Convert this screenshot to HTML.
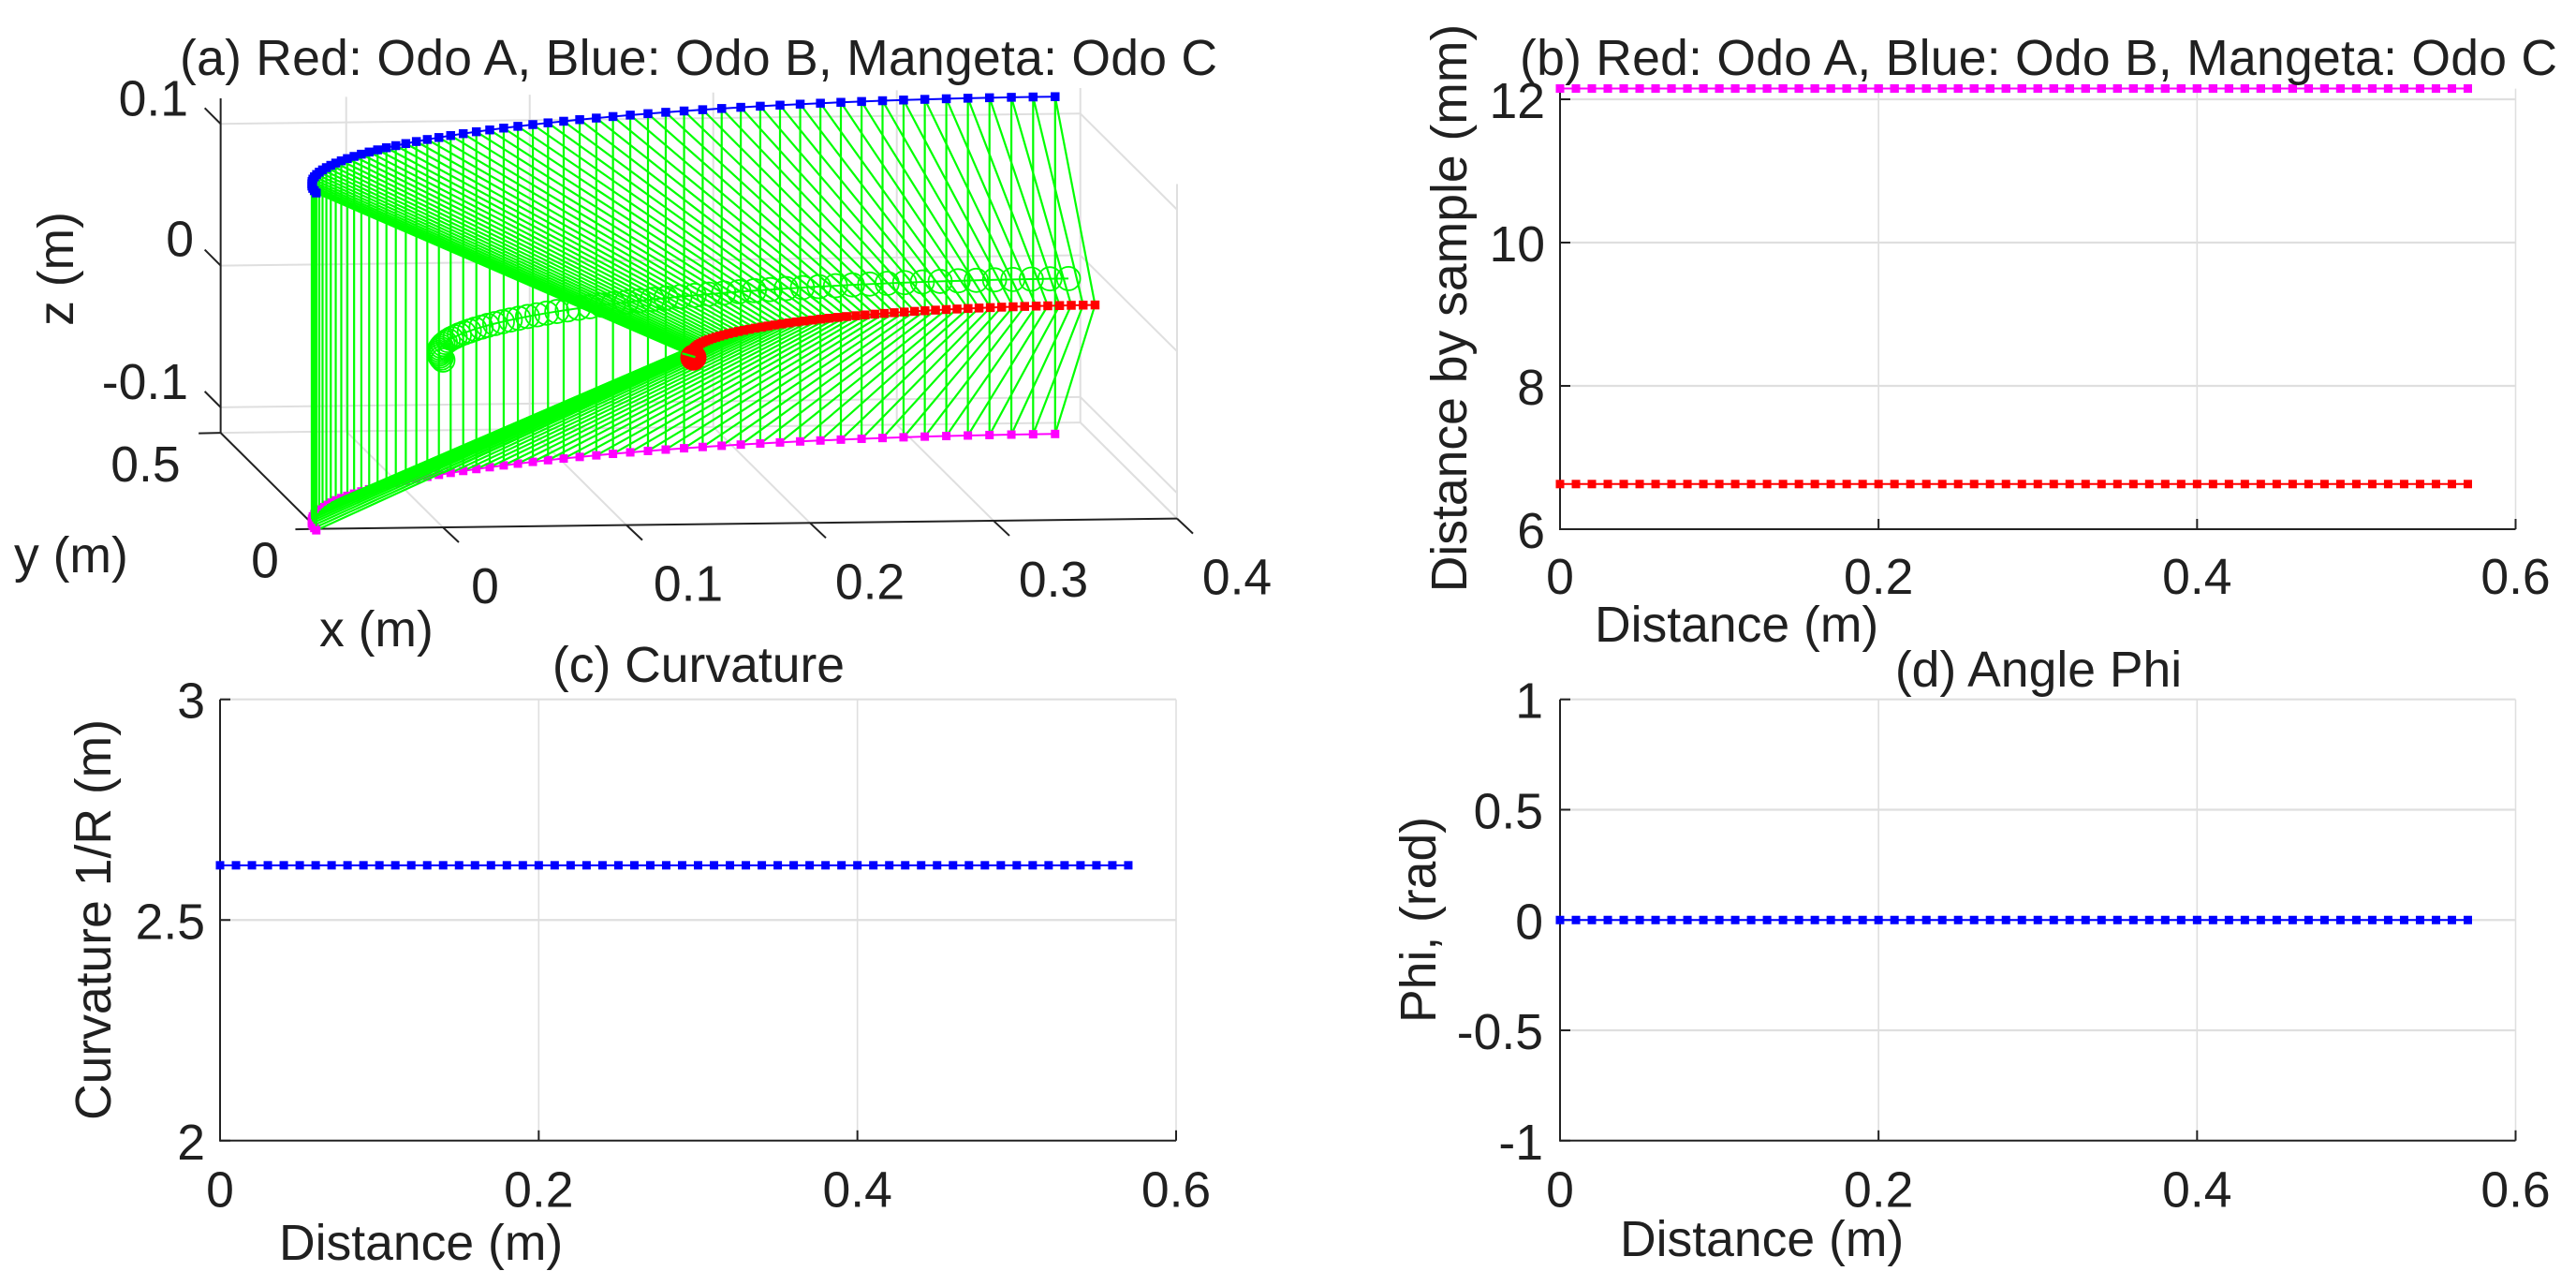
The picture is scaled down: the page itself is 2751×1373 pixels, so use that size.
<!DOCTYPE html>
<html lang="en">
<head>
<meta charset="utf-8">
<title>Odometer path charts</title>
<style>
html,body{margin:0;padding:0;background:#fff;}
svg{display:block;}
text{font-family:"Liberation Sans",Arial,sans-serif;fill:#202020;font-size:53.5px;}
</style>
</head>
<body>
<svg id="fig" xmlns="http://www.w3.org/2000/svg" width="2751" height="1373" viewBox="0 0 2751 1373">
<rect x="0" y="0" width="2751" height="1373" fill="#ffffff"/>
<g id="panelA"></g>
<g id="panelB"></g>
<g id="panelC"></g>
<g id="panelD"></g>
<text x="192" y="80" textLength="1108" lengthAdjust="spacing">(a) Red: Odo A, Blue: Odo B, Mangeta: Odo C</text>
<text x="1623" y="80" textLength="1108" lengthAdjust="spacing">(b) Red: Odo A, Blue: Odo B, Mangeta: Odo C</text>
<text x="746" y="728" text-anchor="middle">(c) Curvature</text>
<text x="2177" y="733" text-anchor="middle">(d) Angle Phi</text>
<text transform="translate(78,287) rotate(-90)" text-anchor="middle">z (m)</text>
<text x="15" y="611">y (m)</text>
<text x="341" y="690">x (m)</text>
<text transform="translate(1566,329) rotate(-90)" text-anchor="middle">Distance by sample (mm)</text>
<text x="1703" y="685">Distance (m)</text>
<text transform="translate(118,982) rotate(-90)" text-anchor="middle">Curvature 1/R (m)</text>
<text x="298" y="1345">Distance (m)</text>
<text transform="translate(1533,982) rotate(-90)" text-anchor="middle">Phi, (rad)</text>
<text x="1730" y="1341">Distance (m)</text>
</svg>
<script>
// ---------- panel (a) data: metres, read from the 3D view ----------
const odoBCX=[-.069,-.0688,-.0684,-.0676,-.0664,-.065,-.0633,-.0612,-.0588,-.0561,-.0531,-.0498,-.0462,-.0423,-.0381,-.0336,-.0288,-.0237,-.0183,-.0126,-.0067,-.0005,.006,.0128,.0198,.0271,.0345,.0423,.0504,.0586,.0671,.0757,.0847,.0938,.1031,.1126,.1224,.1322,.1423,.1526,.1629,.1735,.1842,.1951,.206,.2171,.2283,.2397,.2511,.2626,.2742,.2859,.2976,.3094,.3213,.3332,.3451,.3571,.369,.381];
const odoBCY=[0,.012,.0239,.0359,.0478,.0597,.0716,.0834,.0951,.1068,.1184,.1299,.1413,.1527,.1639,.175,.1859,.1968,.2075,.2181,.2284,.2387,.2488,.2586,.2684,.2779,.2872,.2963,.3053,.3139,.3224,.3306,.3387,.3465,.3539,.3612,.3682,.375,.3815,.3877,.3936,.3993,.4047,.4098,.4146,.4191,.4233,.4272,.4308,.4341,.4371,.4398,.4422,.4443,.446,.4474,.4486,.4494,.4498,.45];
const centerX=[0,.0001,.0005,.0012,.0022,.0034,.0048,.0066,.0086,.0109,.0134,.0162,.0193,.0226,.0262,.03,.034,.0384,.0429,.0477,.0528,.058,.0635,.0692,.0752,.0813,.0877,.0942,.1011,.108,.1152,.1225,.1302,.1379,.1457,.1538,.162,.1704,.1789,.1876,.1964,.2053,.2144,.2236,.2329,.2423,.2517,.2613,.271,.2808,.2906,.3005,.3104,.3204,.3304,.3405,.3506,.3607,.3709,.381];
const centerY=[0,.0101,.0203,.0304,.0405,.0506,.0606,.0706,.0805,.0904,.1002,.11,.1197,.1293,.1387,.1481,.1574,.1666,.1757,.1846,.1934,.2021,.2106,.219,.2272,.2353,.2431,.2508,.2585,.2658,.273,.2799,.2868,.2933,.2997,.3058,.3118,.3175,.323,.3283,.3333,.3381,.3426,.347,.351,.3548,.3584,.3617,.3648,.3676,.3701,.3724,.3744,.3761,.3776,.3788,.3798,.3805,.3809,.381];
const odoAX=[.1375,.1376,.1378,.1383,.1389,.1397,.1406,.1417,.143,.1445,.1461,.1479,.1498,.1519,.1542,.1567,.1593,.162,.1649,.168,.1712,.1746,.1781,.1817,.1855,.1895,.1935,.1977,.2021,.2065,.2111,.2158,.2207,.2256,.2306,.2358,.241,.2464,.2518,.2574,.263,.2687,.2745,.2804,.2863,.2923,.2984,.3045,.3107,.3169,.3232,.3295,.3359,.3423,.3487,.3551,.3616,.368,.3745,.381];
const odoAY=[0,.0065,.013,.0194,.0259,.0323,.0387,.0451,.0515,.0578,.0641,.0703,.0765,.0826,.0887,.0947,.1006,.1065,.1123,.118,.1236,.1292,.1346,.14,.1452,.1504,.1554,.1603,.1652,.1699,.1745,.1789,.1833,.1875,.1915,.1955,.1993,.2029,.2064,.2098,.213,.2161,.219,.2217,.2243,.2268,.2291,.2312,.2331,.2349,.2365,.238,.2393,.2404,.2413,.2421,.2427,.2432,.2434,.2435];
const odoAHeight=[0];
const odoBHeight=[0.119];
const odoCHeight=[-0.119];
const centerHeight=[0];
const xTicks3d=[0,0.1,0.2,0.3,0.4];
const yTicks3d=[0,0.5];
const zTicks3d=[-0.1,0,0.1];

// ---------- panels (b)(c)(d) data ----------
const distance=[0,.01,.02,.03,.04,.05,.06,.07,.08,.09,.10,.11,.12,.13,.14,.15,.16,.17,.18,.19,.20,.21,.22,.23,.24,.25,.26,.27,.28,.29,.30,.31,.32,.33,.34,.35,.36,.37,.38,.39,.40,.41,.42,.43,.44,.45,.46,.47,.48,.49,.50,.51,.52,.53,.54,.55,.56,.57];
const sampleA=[6.63,6.63,6.63,6.63,6.63,6.63,6.63,6.63,6.63,6.63,6.63,6.63,6.63,6.63,6.63,6.63,6.63,6.63,6.63,6.63,6.63,6.63,6.63,6.63,6.63,6.63,6.63,6.63,6.63,6.63,6.63,6.63,6.63,6.63,6.63,6.63,6.63,6.63,6.63,6.63,6.63,6.63,6.63,6.63,6.63,6.63,6.63,6.63,6.63,6.63,6.63,6.63,6.63,6.63,6.63,6.63,6.63,6.63];
const sampleB=[12.15,12.15,12.15,12.15,12.15,12.15,12.15,12.15,12.15,12.15,12.15,12.15,12.15,12.15,12.15,12.15,12.15,12.15,12.15,12.15,12.15,12.15,12.15,12.15,12.15,12.15,12.15,12.15,12.15,12.15,12.15,12.15,12.15,12.15,12.15,12.15,12.15,12.15,12.15,12.15,12.15,12.15,12.15,12.15,12.15,12.15,12.15,12.15,12.15,12.15,12.15,12.15,12.15,12.15,12.15,12.15,12.15,12.15];
const sampleC=[12.15,12.15,12.15,12.15,12.15,12.15,12.15,12.15,12.15,12.15,12.15,12.15,12.15,12.15,12.15,12.15,12.15,12.15,12.15,12.15,12.15,12.15,12.15,12.15,12.15,12.15,12.15,12.15,12.15,12.15,12.15,12.15,12.15,12.15,12.15,12.15,12.15,12.15,12.15,12.15,12.15,12.15,12.15,12.15,12.15,12.15,12.15,12.15,12.15,12.15,12.15,12.15,12.15,12.15,12.15,12.15,12.15,12.15];
const curvature=[2.624,2.624,2.624,2.624,2.624,2.624,2.624,2.624,2.624,2.624,2.624,2.624,2.624,2.624,2.624,2.624,2.624,2.624,2.624,2.624,2.624,2.624,2.624,2.624,2.624,2.624,2.624,2.624,2.624,2.624,2.624,2.624,2.624,2.624,2.624,2.624,2.624,2.624,2.624,2.624,2.624,2.624,2.624,2.624,2.624,2.624,2.624,2.624,2.624,2.624,2.624,2.624,2.624,2.624,2.624,2.624,2.624,2.624];
const phi=[0,0,0,0,0,0,0,0,0,0,0,0,0,0,0,0,0,0,0,0,0,0,0,0,0,0,0,0,0,0,0,0,0,0,0,0,0,0,0,0,0,0,0,0,0,0,0,0,0,0,0,0,0,0,0,0,0,0];
const xTickValues=[0,0.2,0.4,0.6];
const bYTicks=[6,8,10,12];
const cYTicks=[2,2.5,3];
const dYTicks=[-1,-0.5,0,0.5,1];

const NS='http://www.w3.org/2000/svg';
const INK='#222222',GRID='#dfdfdf',GREEN='#00ff00';

function make(parent,tag,props){
  const el=document.createElementNS(NS,tag);
  for(const k in props){el.setAttribute(k,props[k]);}
  parent.appendChild(el);
  return el;
}
function seg(parent,a,b,color,width,name){
  const el=make(parent,'line',{x1:a[0],y1:a[1],x2:b[0],y2:b[1],stroke:color,'stroke-width':width});
  
  
  return el;
}
function square(parent,p,size,color,name){
  const el=make(parent,'rect',{x:p[0]-size/2,y:p[1]-size/2,width:size,height:size,fill:color});
  
  
  return el;
}
function label(parent,x,y,str,anchor,name){
  const el=make(parent,'text',{x:x,y:y,'text-anchor':anchor});
  el.textContent=str;
  
  
  return el;
}
function trace(parent,pts,color,width,name){
  const el=make(parent,'polyline',{points:pts.map(p=>p[0]+','+p[1]).join(' '),fill:'none',stroke:color,'stroke-width':width});
  
  
  return el;
}

// ---------- panel (a): orthographic projection ----------
const XMIN=-0.0684,XMAX=0.4,YMIN=0,YMAX=0.5,ZMIN=-0.118,ZMAX=0.118;
function proj(x,y,z){
  return [473+1960*x-206.6*y, 563-23.5*x-205*y-1513*(z-ZMIN)];
}
function drawPanelA(){
  const g=document.getElementById('panelA');
  // back wall + floor + side wall grid
  xTicks3d.forEach(function(v){
    seg(g,proj(v,YMAX,ZMIN),proj(v,YMAX,ZMAX),GRID,2,'x-gridline-back');
    seg(g,proj(v,YMIN,ZMIN),proj(v,YMAX,ZMIN),GRID,2,'x-gridline-floor');
  });
  zTicks3d.forEach(function(v){
    seg(g,proj(XMIN,YMAX,v),proj(XMAX,YMAX,v),GRID,2,'z-gridline-back');
    seg(g,proj(XMAX,YMAX,v),proj(XMAX,YMIN,v),GRID,2,'z-gridline-side');
  });
  seg(g,proj(XMIN,YMAX,ZMIN),proj(XMAX,YMAX,ZMIN),GRID,2,'y-gridline-floor');
  seg(g,proj(XMAX,YMAX,ZMIN),proj(XMAX,YMIN,ZMIN),GRID,2,'floor-edge-right');
  seg(g,proj(XMAX,YMIN,ZMIN),proj(XMAX,YMIN,ZMAX),GRID,2,'side-wall-edge');

  // axes
  seg(g,proj(XMIN,YMAX,ZMIN),proj(XMIN,YMAX,ZMAX),INK,2,'z-axis-line');
  seg(g,proj(XMIN,YMIN,ZMIN),proj(XMIN,YMAX,ZMIN),INK,2,'y-axis-line');
  seg(g,proj(XMIN,YMIN,ZMIN),proj(XMAX,YMIN,ZMIN),INK,2,'x-axis-line');
  zTicks3d.forEach(function(v){
    const p=proj(XMIN,YMAX,v);
    seg(g,p,[p[0]-17,p[1]-17],INK,2,'z-axis-tick');
    label(g,v===0?207:201,p[1]-(v===0?10:9),String(v),'end','z-tick-label');
  });
  yTicks3d.forEach(function(v){
    const p=proj(XMIN,v,ZMIN);
    seg(g,p,[p[0]-23.5,p[1]+0.5],INK,2,'y-axis-tick');
    label(g,p[0]-(v===0?41:43),p[1]+52,String(v),'end','y-tick-label');
  });
  xTicks3d.forEach(function(v){
    const p=proj(v,YMIN,ZMIN);
    seg(g,p,[p[0]+17,p[1]+16],INK,2,'x-axis-tick');
    label(g,p[0]+(v===0?45:(v===0.1?66:64)),p[1]+81,String(v),'middle','x-tick-label');
  });

  // series
  const n=odoBCX.length;
  const blue=[],mag=[],red=[],ctr=[];
  for(let i=0;i<n;i++){
    blue.push(proj(odoBCX[i],odoBCY[i],odoBHeight[0]));
    mag.push(proj(odoBCX[i],odoBCY[i],odoCHeight[0]));
    red.push(proj(odoAX[i],odoAY[i],odoAHeight[0]));
    ctr.push(proj(centerX[i],centerY[i],centerHeight[0]));
  }
  trace(g,mag,'#ff00ff',2,'odo-c-line');
  trace(g,ctr,GREEN,2,'center-path-line');
  ctr.forEach(function(p){
    const c=make(g,'circle',{cx:p[0],cy:p[1],r:12.5,fill:'none',stroke:GREEN,'stroke-width':1.8});
    
    
  });
  // later samples first, so the dense band near the start covers the magenta markers
  for(let i=n-1;i>=0;i--){
    seg(g,blue[i],mag[i],GREEN,2.2,'strut-b-c');
    seg(g,blue[i],red[i],GREEN,2.2,'strut-b-a');
    seg(g,red[i],mag[i],GREEN,2.2,'strut-a-c');
    square(g,mag[i],9,'#ff00ff','odo-c-marker');
  }
  trace(g,blue,'#0000ff',2,'odo-b-line');
  blue.forEach(function(p){square(g,p,9.5,'#0000ff','odo-b-marker');});
  trace(g,red,'#ff0000',2,'odo-a-line');
  red.forEach(function(p){square(g,p,9.5,'#ff0000','odo-a-marker');});
  const startCap=make(g,'circle',{cx:red[0][0]-2,cy:red[0][1]+0.5,r:14,fill:'#ff0000'});
  
  
  seg(g,[red[0][0]-14,red[0][1]-4],red[0],GREEN,2.4,'strut-start-notch');
}

// ---------- panels (b)(c)(d): 2D axes ----------
function drawPanel2D(gid,box,yTicks,series,prefix){
  const g=document.getElementById(gid);
  const xs=function(v){return box.left+(box.right-box.left)*v/box.xmax;};
  const ys=function(v){return box.bottom-(box.bottom-box.y0top)*(v-box.ymin)/(box.ymaxTick-box.ymin);};
  xTickValues.forEach(function(v){
    if(v>0){seg(g,[xs(v),box.top],[xs(v),box.bottom],GRID,1.6,prefix+'-x-gridline');}
  });
  yTicks.forEach(function(v){
    if(v>box.ymin){seg(g,[box.left,ys(v)],[box.right,ys(v)],GRID,2.2,prefix+'-y-gridline');}
  });
  seg(g,[box.left,box.top],[box.left,box.bottom+1],INK,2,prefix+'-y-axis-line');
  seg(g,[box.left,box.bottom],[box.right,box.bottom],INK,2,prefix+'-x-axis-line');
  xTickValues.forEach(function(v){
    if(v>0){seg(g,[xs(v),box.bottom],[xs(v),box.bottom-11],INK,2,prefix+'-x-tick');}
    label(g,xs(v),box.bottom+box.xLabelGap,String(v),'middle',prefix+'-x-tick-label');
  });
  yTicks.forEach(function(v){
    seg(g,[box.left,ys(v)],[box.left+11,ys(v)],INK,2,prefix+'-y-tick');
    label(g,box.left-box.yLabelGap,ys(v)+20,String(v),'end',prefix+'-y-tick-label');
  });
  series.forEach(function(s){
    const pts=distance.map(function(d,i){return [xs(d),ys(s.values[i])];});
    trace(g,pts,s.color,2,prefix+'-'+s.name+'-line');
    pts.forEach(function(p){square(g,p,9,s.color,prefix+'-'+s.name+'-marker');});
  });
}

drawPanelA();
drawPanel2D('panelB',
  {left:1666,right:2686.5,top:94.6,bottom:565,y0top:106,xmax:0.6,ymin:6,ymaxTick:12,xLabelGap:69,yLabelGap:16},
  bYTicks,
  [{name:'odo-a',color:'#ff0000',values:sampleA},{name:'odo-b',color:'#0000ff',values:sampleB},{name:'odo-c',color:'#ff00ff',values:sampleC}],
  'panel-b');
drawPanel2D('panelC',
  {left:235,right:1256,top:746.7,bottom:1217.8,y0top:746.7,xmax:0.6,ymin:2,ymaxTick:3,xLabelGap:70.7,yLabelGap:16},
  cYTicks,
  [{name:'curvature',color:'#0000ff',values:curvature}],
  'panel-c');
drawPanel2D('panelD',
  {left:1666,right:2686.5,top:746.7,bottom:1217.8,y0top:746.7,xmax:0.6,ymin:-1,ymaxTick:1,xLabelGap:70.7,yLabelGap:18},
  dYTicks,
  [{name:'phi',color:'#0000ff',values:phi}],
  'panel-d');
</script>
</body>
</html>
